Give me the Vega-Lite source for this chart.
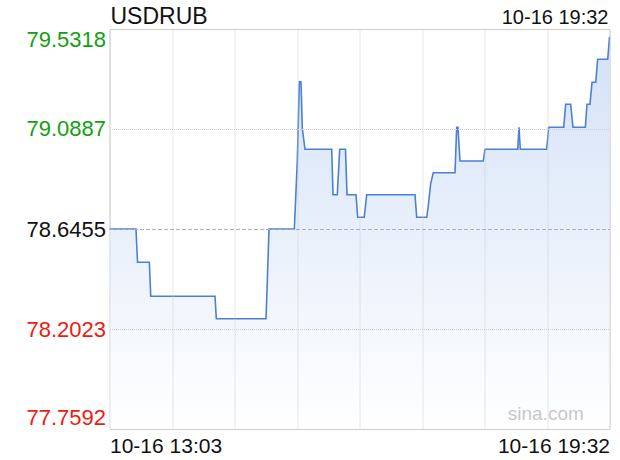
{
  "$schema": "https://vega.github.io/schema/vega-lite/v6.json",
  "autosize": {"type": "none"},
  "padding": {"left": 109.5, "top": 29, "right": 10.5, "bottom": 31},
  "width": 500,
  "height": 400,
  "background": "#ffffff",
  "config": {
    "font": "Liberation Sans",
    "view": {"stroke": "#d0d0d0", "strokeWidth": 1}
  },
  "data": {
    "values": [
      {"t": 0, "v": 78.6455}, {"t": 20.6, "v": 78.6455}, {"t": 21.8, "v": 78.498}, {"t": 31.0, "v": 78.498},
      {"t": 32.1, "v": 78.3473}, {"t": 82.1, "v": 78.3473}, {"t": 83.1, "v": 78.248}, {"t": 121.8, "v": 78.248},
      {"t": 124.1, "v": 78.6455}, {"t": 143.8, "v": 78.6455}, {"t": 146.1, "v": 78.9468}, {"t": 147.7, "v": 79.2983},
      {"t": 149.0, "v": 79.2983}, {"t": 150.0, "v": 79.0918}, {"t": 152.1, "v": 78.9987}, {"t": 172.9, "v": 78.9987},
      {"t": 173.9, "v": 78.7975}, {"t": 177.2, "v": 78.7975}, {"t": 179.1, "v": 78.9987}, {"t": 183.6, "v": 78.9987},
      {"t": 184.8, "v": 78.7975}, {"t": 191.8, "v": 78.7975}, {"t": 193.1, "v": 78.6973}, {"t": 198.2, "v": 78.6973},
      {"t": 200.1, "v": 78.7975}, {"t": 237.7, "v": 78.7975}, {"t": 239.0, "v": 78.6973}, {"t": 246.8, "v": 78.6973},
      {"t": 248.0, "v": 78.7474}, {"t": 249.9, "v": 78.848}, {"t": 251.9, "v": 78.895}, {"t": 268.8, "v": 78.895},
      {"t": 270.1, "v": 79.0962}, {"t": 271.1, "v": 79.0962}, {"t": 272.7, "v": 78.9468}, {"t": 290.8, "v": 78.9468},
      {"t": 292.1, "v": 78.9987}, {"t": 317.6, "v": 78.9987}, {"t": 318.6, "v": 79.0962}, {"t": 319.6, "v": 78.9987},
      {"t": 340.1, "v": 78.9987}, {"t": 341.7, "v": 79.0962}, {"t": 353.4, "v": 79.0962}, {"t": 354.9, "v": 79.1981},
      {"t": 358.8, "v": 79.1981}, {"t": 360.6, "v": 79.0962}, {"t": 370.2, "v": 79.0962}, {"t": 371.5, "v": 79.1981},
      {"t": 373.8, "v": 79.1981}, {"t": 375.4, "v": 79.2956}, {"t": 378.3, "v": 79.2956}, {"t": 379.8, "v": 79.3975},
      {"t": 387.6, "v": 79.3975}, {"t": 389, "v": 79.4963}
    ]
  },
  "encoding": {
    "x": {
      "field": "t",
      "type": "quantitative",
      "scale": {"domain": [0, 389], "nice": false, "zero": false},
      "axis": {
        "title": null,
        "zindex": 1,
        "values": [0, 48.625, 97.25, 145.875, 194.5, 243.125, 291.75, 340.375, 389],
        "labelExpr": "datum.value == 0 ? '10-16 13:03' : (datum.value == 389 ? '10-16 19:32' : '')",
        "labelFlush": true,
        "labelOverlap": false,
        "labelFontSize": 21,
        "labelColor": "#111111",
        "labelPadding": 6,
        "tickSize": 0,
        "domain": false,
        "grid": true,
        "gridColor": "#cccccc",
        "gridDash": [1, 1],
        "gridWidth": 1
      }
    },
    "y": {
      "field": "v",
      "type": "quantitative",
      "scale": {"domain": [77.7592, 79.5318], "nice": false, "zero": false},
      "axis": {
        "title": null,
        "zindex": 1,
        "values": [77.7592, 78.2023, 78.6455, 79.0887, 79.5318],
        "format": ".4f",
        "labelFlush": true,
        "labelOverlap": false,
        "labelFontSize": 22,
        "labelPadding": 4,
        "labelColor": {
          "condition": [
            {"test": "datum.value > 78.65", "value": "#12a012"},
            {"test": "datum.value < 78.64", "value": "#f01a10"}
          ],
          "value": "#111111"
        },
        "tickSize": 0,
        "domain": false,
        "grid": true,
        "gridColor": {"condition": {"test": "abs(datum.value - 78.6455) < 0.001", "value": "#aab0b8"}, "value": "#d0d0d0"},
        "gridDash": {"condition": {"test": "abs(datum.value - 78.6455) < 0.001", "value": [4, 2]}, "value": [1, 1]},
        "gridWidth": 1
      }
    }
  },
  "layer": [
    {
      "mark": {
        "type": "area",
        "interpolate": "linear",
        "opacity": 1,
        "fillOpacity": 1,
        "fill": {
          "gradient": "linear",
          "x1": 0, "y1": 0, "x2": 0, "y2": 1,
          "stops": [
            {"offset": 0, "color": "#d3e1f7"},
            {"offset": 1, "color": "#ffffff"}
          ]
        },
        "line": {"color": "#4d80d2", "strokeWidth": 1.6}
      },
      "encoding": {
        "y2": {"datum": 77.7592}
      }
    },
    {
      "transform": [{"filter": "datum.t == 0"}],
      "mark": {"type": "text", "align": "left", "baseline": "alphabetic", "dy": -5, "dx": 1, "fontSize": 23, "color": "#111111"},
      "encoding": {
        "x": {"datum": 0},
        "y": {"datum": 79.5318},
        "text": {"value": "USDRUB"}
      }
    },
    {
      "transform": [{"filter": "datum.t == 389"}],
      "mark": {"type": "text", "align": "right", "baseline": "alphabetic", "dy": -5, "dx": -1, "fontSize": 20, "color": "#111111"},
      "encoding": {
        "x": {"datum": 389},
        "y": {"datum": 79.5318},
        "text": {"value": "10-16 19:32"}
      }
    },
    {
      "transform": [{"filter": "datum.t == 389"}],
      "mark": {"type": "text", "align": "right", "baseline": "alphabetic", "dy": -9, "fontSize": 19, "color": "#c8c8c8"},
      "encoding": {
        "x": {"datum": 369},
        "y": {"datum": 77.7592},
        "text": {"value": "sina.com"}
      }
    }
  ]
}
